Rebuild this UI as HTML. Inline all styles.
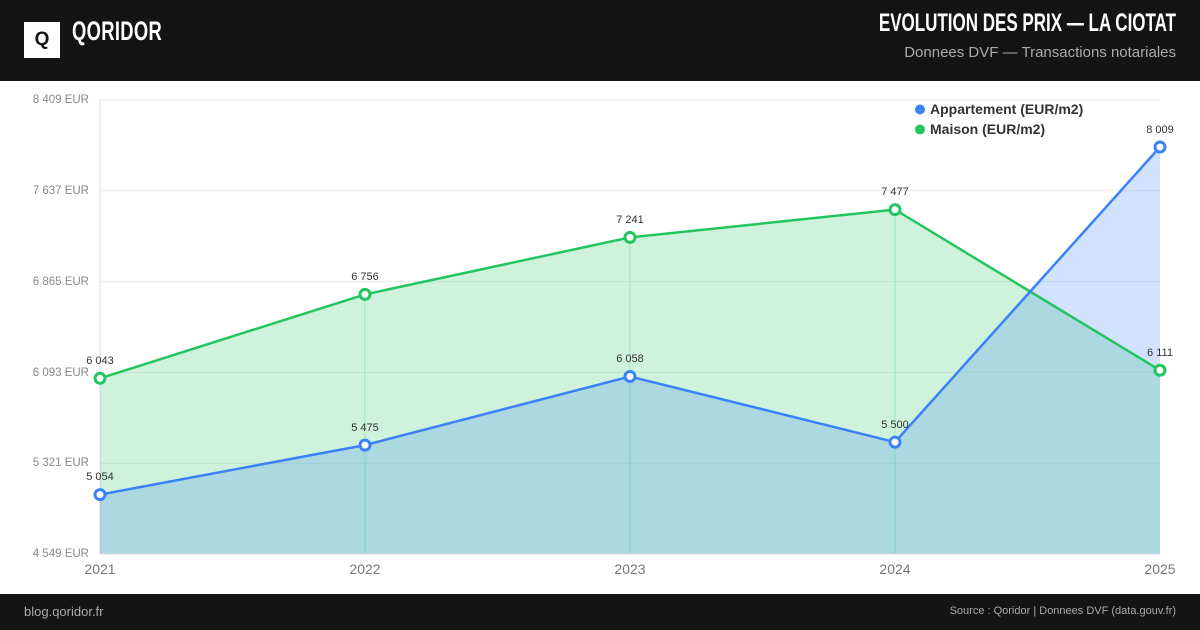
<!DOCTYPE html>
<html><head><meta charset="utf-8"><style>
body{margin:0;width:1200px;height:630px;overflow:hidden;background:#fff;font-family:"Liberation Sans",sans-serif}
.hd{position:absolute;left:0;top:0;width:1200px;height:81px;background:#141414}
.ft{position:absolute;left:0;top:594px;width:1200px;height:36px;background:#141414}
</style></head><body>
<div class="hd">
<div style="position:absolute;left:24px;top:22px;width:36px;height:36px;background:#fff"></div>
<div style="position:absolute;left:24px;top:22px;width:36px;height:36px;line-height:36px;text-align:center;font-weight:bold;font-size:19px;color:#141414">Q</div>
<div style="position:absolute;left:72px;top:16px;font-size:27px;font-weight:bold;color:#fff;transform:scaleX(0.68);transform-origin:left;letter-spacing:0.5px">QORIDOR</div>
<div style="position:absolute;right:24px;top:9px;font-size:25px;font-weight:bold;color:#fff;transform:scaleX(0.68);transform-origin:right;white-space:nowrap">EVOLUTION DES PRIX — LA CIOTAT</div>
<div style="position:absolute;right:24px;top:44px;font-size:15px;color:#aaa">Donnees DVF — Transactions notariales</div>
</div>
<svg width="1200" height="630" style="position:absolute;left:0;top:0" font-family="Liberation Sans, sans-serif">
<g stroke="#ececec" stroke-width="1">
<line x1="100" x2="1160" y1="100" y2="100"/><line x1="100" x2="1160" y1="190.8" y2="190.8"/><line x1="100" x2="1160" y1="281.6" y2="281.6"/><line x1="100" x2="1160" y1="372.4" y2="372.4"/><line x1="100" x2="1160" y1="463.2" y2="463.2"/>
<line x1="100" x2="100" y1="100" y2="554" stroke="#ddd"/>
</g>
<polygon points="100,378.3 365,294.4 630,237.4 895,209.6 1160,370.3 1160,554 100,554" fill="rgba(34,197,94,0.22)"/>
<polygon points="100,494.6 365,445.1 630,376.5 895,442.1 1160,147 1160,554 100,554" fill="rgba(59,130,246,0.23)"/>
<g stroke="rgba(34,197,94,0.3)"><line x1="365" x2="365" y1="294" y2="554"/><line x1="630" x2="630" y1="237" y2="554"/><line x1="895" x2="895" y1="210" y2="554"/></g>
<line x1="100" x2="1160" y1="554" y2="554" stroke="#ddd"/>
<polyline points="100,378.3 365,294.4 630,237.4 895,209.6 1160,370.3" fill="none" stroke="#22c55e" stroke-width="2.5"/>
<polyline points="100,494.6 365,445.1 630,376.5 895,442.1 1160,147" fill="none" stroke="#3b82f6" stroke-width="2.5"/>
<g fill="#fff" stroke="#22c55e" stroke-width="3">
<circle cx="100" cy="378.3" r="5"/><circle cx="365" cy="294.4" r="5"/><circle cx="630" cy="237.4" r="5"/><circle cx="895" cy="209.6" r="5"/><circle cx="1160" cy="370.3" r="5"/></g>
<g fill="#fff" stroke="#3b82f6" stroke-width="3">
<circle cx="100" cy="494.6" r="5"/><circle cx="365" cy="445.1" r="5"/><circle cx="630" cy="376.5" r="5"/><circle cx="895" cy="442.1" r="5"/><circle cx="1160" cy="147" r="5"/></g>
<g font-size="11" fill="#333" text-anchor="middle">
<text x="100" y="364">6 043</text><text x="365" y="280">6 756</text><text x="630" y="223">7 241</text><text x="895" y="195">7 477</text><text x="1160" y="356">6 111</text>
<text x="100" y="480">5 054</text><text x="365" y="431">5 475</text><text x="630" y="362">6 058</text><text x="895" y="428">5 500</text><text x="1160" y="133">8 009</text>
</g>
<g font-size="11.5" fill="#888" text-anchor="end">
<text x="89" y="103">8 409 EUR</text><text x="89" y="194">7 637 EUR</text><text x="89" y="285">6 865 EUR</text><text x="89" y="376">6 093 EUR</text><text x="89" y="466">5 321 EUR</text><text x="89" y="557">4 549 EUR</text>
</g>
<g font-size="14" fill="#777" text-anchor="middle">
<text x="100" y="574">2021</text><text x="365" y="574">2022</text><text x="630" y="574">2023</text><text x="895" y="574">2024</text><text x="1160" y="574">2025</text>
</g>
<circle cx="920" cy="109.5" r="5" fill="#3b82f6"/><text x="930" y="114" font-size="14" font-weight="bold" fill="#333">Appartement (EUR/m2)</text>
<circle cx="920" cy="129.5" r="5" fill="#22c55e"/><text x="930" y="134" font-size="14" font-weight="bold" fill="#333">Maison (EUR/m2)</text>
</svg>
<div class="ft">
<div style="position:absolute;left:24px;top:10px;font-size:13px;color:#aaa">blog.qoridor.fr</div>
<div style="position:absolute;right:24px;top:11px;font-size:11px;color:#aaa">Source : Qoridor | Donnees DVF (data.gouv.fr)</div>
</div>
</body></html>
